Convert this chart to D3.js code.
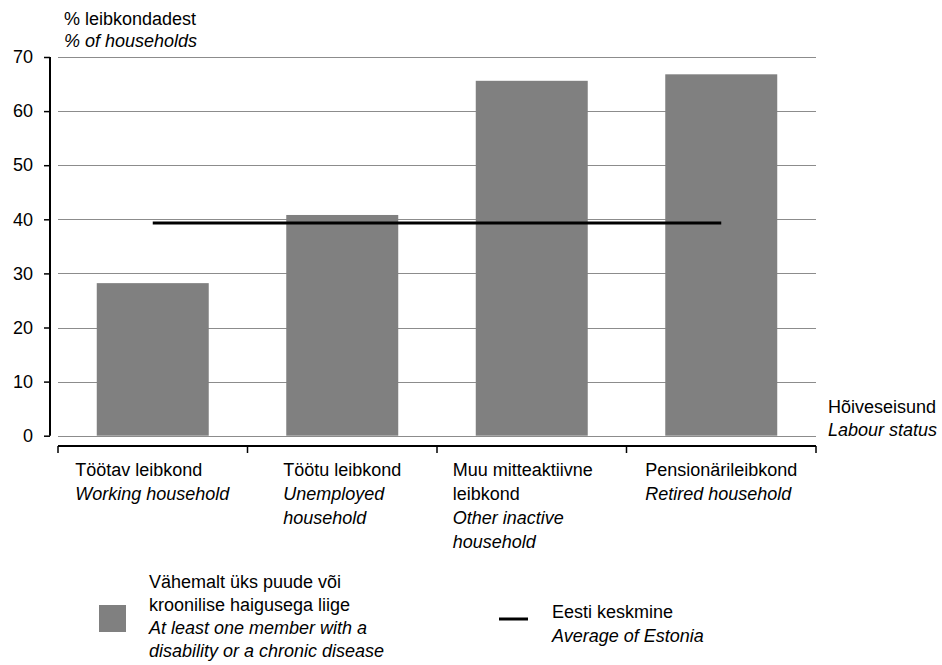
<!DOCTYPE html>
<html>
<head>
<meta charset="utf-8">
<script src="https://cdn.jsdelivr.net/npm/d3@7"></script>
<style>
  html, body { margin: 0; padding: 0; background: #fff; }
  svg { display: block; font-family: "Liberation Sans", Arial, sans-serif; }
  text { fill: #000; }
</style>
</head>
<body>
<svg id="chart" width="942" height="665"></svg>
<script>
// ---- data ----
const categoriesEt = ["Töötav leibkond", "Töötu leibkond", "Muu mitteaktiivne leibkond", "Pensionärileibkond"];
const categoryLines = [
  [["Töötav leibkond", false], ["Working household", true]],
  [["Töötu leibkond", false], ["Unemployed", true], ["household", true]],
  [["Muu mitteaktiivne", false], ["leibkond", false], ["Other inactive", true], ["household", true]],
  [["Pensionärileibkond", false], ["Retired household", true]]
];
const disabilityValues = [28.2, 40.8, 65.6, 66.8];
const averageValues = [39.3, 39.3, 39.3, 39.3];
const yTicks = [0, 10, 20, 30, 40, 50, 60, 70];
const yTitle = ["% leibkondadest", "% of households"];
const xTitle = ["Hõiveseisund", "Labour status"];
const legendBar = ["Vähemalt üks puude või", "kroonilise haigusega liige", "At least one member with a", "disability or a chronic disease"];
const legendLine = ["Eesti keskmine", "Average of Estonia"];

// ---- layout ----
const svg = d3.select("#chart");
const FS = 18;
const plotLeft = 58, plotRight = 816, plotTop = 57, plotBottom = 435.7;

const x = d3.scaleBand().domain(categoriesEt).range([plotLeft, plotRight])
  .paddingInner(0.409).paddingOuter(0.2045);
const y = d3.scaleLinear().domain([0, 70]).range([plotBottom, plotTop]);

// gridlines
svg.append("g").selectAll("line").data(yTicks).join("line")
  .attr("x1", plotLeft).attr("x2", plotRight)
  .attr("y1", d => Math.round(y(d)) + 0.5).attr("y2", d => Math.round(y(d)) + 0.5)
  .attr("stroke", "#8c8c8c").attr("stroke-width", 1);

// y axis
const yAxis = svg.append("g").attr("transform", "translate(50,0)")
  .call(d3.axisLeft(y).tickValues(yTicks).tickSize(6).tickPadding(11).tickFormat(d3.format("d")));
yAxis.select(".domain").attr("stroke", "#000").attr("stroke-width", 2).attr("d", `M0,${plotTop}V${plotBottom}`);
yAxis.selectAll(".tick line").attr("stroke", "#000").attr("stroke-width", 1.5);
yAxis.selectAll(".tick text").attr("font-size", FS).attr("font-family", "Liberation Sans, Arial, sans-serif").attr("fill", "#000");

// bars
svg.append("g").selectAll("rect").data(disabilityValues).join("rect")
  .attr("x", (d, i) => x(categoriesEt[i]))
  .attr("width", x.bandwidth())
  .attr("y", d => y(d))
  .attr("height", d => y(0) - y(d))
  .attr("fill", "#808080");

// average line (from center of first band to center of last)
const line = d3.line()
  .x((d, i) => x(categoriesEt[i]) + x.bandwidth() / 2)
  .y(d => y(d));
svg.append("path").datum(averageValues).attr("d", line)
  .attr("fill", "none").attr("stroke", "#000").attr("stroke-width", 3);

// bottom x axis (separate line below the plot)
const xAxisY = 446;
const boundaries = categoriesEt.map(c => x(c) + x.bandwidth() / 2 - x.step() / 2);
boundaries.push(x(categoriesEt[categoriesEt.length - 1]) + x.bandwidth() / 2 + x.step() / 2);
const xg = svg.append("g");
xg.append("line").attr("x1", plotLeft).attr("x2", plotRight).attr("y1", xAxisY).attr("y2", xAxisY)
  .attr("stroke", "#000").attr("stroke-width", 2);
xg.selectAll("line.tk").data(boundaries).join("line").attr("class", "tk")
  .attr("x1", d => d).attr("x2", d => d).attr("y1", xAxisY).attr("y2", xAxisY + 7)
  .attr("stroke", "#000").attr("stroke-width", 1.5);

// category labels: block centred in band (wrap box ~158px wide), lines left aligned
const wrapWidth = 158;
categoryLines.forEach((lines, i) => {
  const g = svg.append("g");
  const t = g.append("text").attr("font-size", FS);
  lines.forEach(([s, it], j) => {
    t.append("tspan").attr("x", 0).attr("y", 476 + j * 24)
      .attr("font-style", it ? "italic" : "normal").text(s);
  });
  const w = lines.length > 3 ? wrapWidth : t.node().getBBox().width;
  const cx = x(categoriesEt[i]) + x.bandwidth() / 2;
  g.attr("transform", `translate(${cx - w / 2},0)`);
});

// y title
svg.append("text").attr("x", 64).attr("y", 25).attr("font-size", FS).text(yTitle[0]);
svg.append("text").attr("x", 64).attr("y", 47).attr("font-size", FS).attr("font-style", "italic").text(yTitle[1]);

// x title
svg.append("text").attr("x", 828).attr("y", 413).attr("font-size", FS).text(xTitle[0]);
svg.append("text").attr("x", 828).attr("y", 436).attr("font-size", FS).attr("font-style", "italic").text(xTitle[1]);

// legend: bar
svg.append("rect").attr("x", 99).attr("y", 605).attr("width", 27).attr("height", 27).attr("fill", "#808080");
legendBar.forEach((s, j) => {
  svg.append("text").attr("x", 149).attr("y", 588 + j * 23).attr("font-size", FS)
    .attr("font-style", j >= 2 ? "italic" : "normal").text(s);
});
// legend: line
svg.append("line").attr("x1", 499).attr("x2", 528).attr("y1", 619).attr("y2", 619)
  .attr("stroke", "#000").attr("stroke-width", 3);
legendLine.forEach((s, j) => {
  svg.append("text").attr("x", 552).attr("y", 618 + j * 24).attr("font-size", FS)
    .attr("font-style", j === 1 ? "italic" : "normal").text(s);
});
</script>
</body>
</html>
